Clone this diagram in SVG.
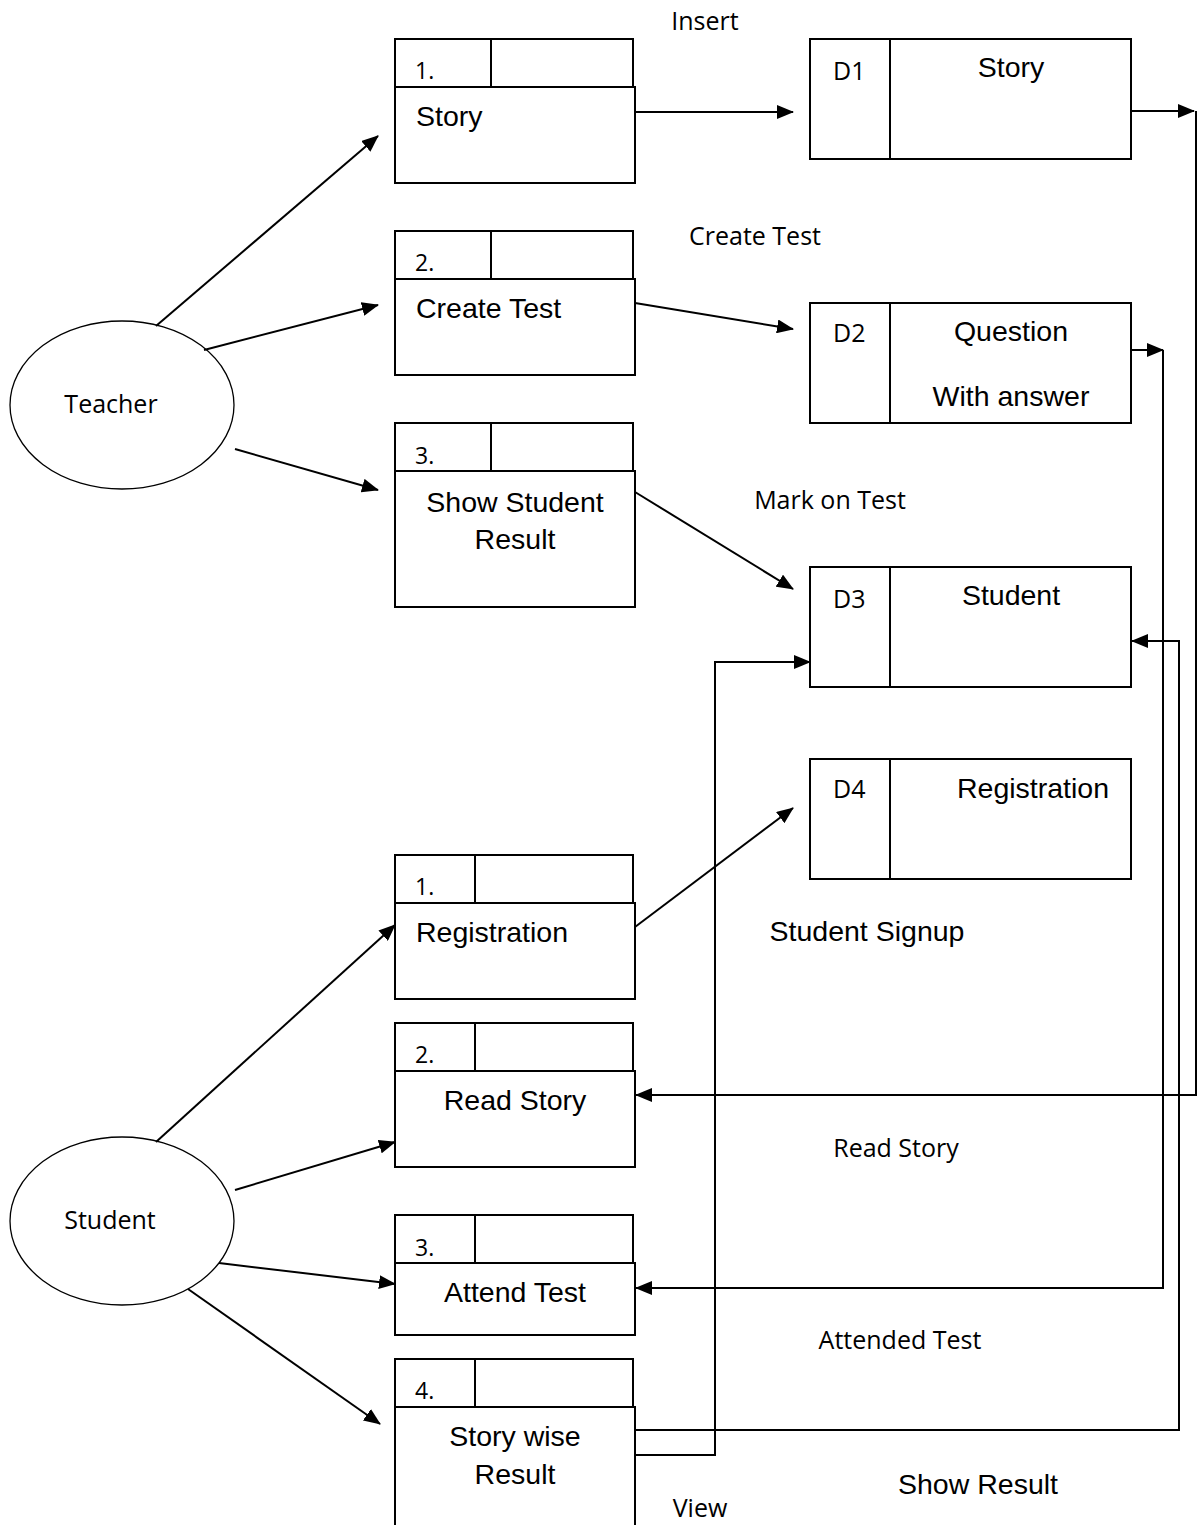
<svg xmlns="http://www.w3.org/2000/svg" width="1203" height="1525" viewBox="0 0 1203 1525">
  <style>
    .box { fill: #fff; stroke: #000; stroke-width: 2; }
    .ell { fill: #fff; stroke: #000; stroke-width: 1.3; }
    .flow { fill: none; stroke: #000; stroke-width: 2; marker-end: url(#arr); }
    .line { fill: none; stroke: #000; stroke-width: 2; }
    .ar { font-family: "Liberation Sans", Arial, sans-serif; font-size: 28.5px; fill: #000; }
    .cal { font-family: "Open Sans", "Noto Sans", sans-serif; font-size: 25px; fill: #000; }
    .num { font-family: "Open Sans", "Noto Sans", sans-serif; font-size: 23px; fill: #000; }
    .mid { text-anchor: middle; }
  </style>
  <defs>
    <marker id="arr" markerUnits="userSpaceOnUse" markerWidth="18" markerHeight="14" refX="16" refY="7" orient="auto">
      <path d="M0,0 L17,7 L0,14 Z" fill="#000"/>
    </marker>
  </defs>

  <!-- external entities -->
  <g id="teacher">
    <ellipse class="ell" cx="122" cy="405" rx="112" ry="84"/>
    <text class="cal mid" x="111" y="413">Teacher</text>
  </g>
  <g id="student">
    <ellipse class="ell" cx="122" cy="1221" rx="112" ry="84"/>
    <text class="cal mid" x="110" y="1229">Student</text>
  </g>

  <!-- teacher processes -->
  <g id="t-story">
    <rect class="box" x="395" y="39" width="238" height="48"/>
    <line class="line" x1="491" y1="39" x2="491" y2="87"/>
    <rect class="box" x="395" y="87" width="240" height="96"/>
    <text class="num" x="415" y="79">1.</text>
    <text class="ar" x="416" y="126">Story</text>
  </g>
  <g id="t-create-test">
    <rect class="box" x="395" y="231" width="238" height="48"/>
    <line class="line" x1="491" y1="231" x2="491" y2="279"/>
    <rect class="box" x="395" y="279" width="240" height="96"/>
    <text class="num" x="415" y="271">2.</text>
    <text class="ar" x="416" y="318">Create Test</text>
  </g>
  <g id="t-show-result">
    <rect class="box" x="395" y="423" width="238" height="48"/>
    <line class="line" x1="491" y1="423" x2="491" y2="471"/>
    <rect class="box" x="395" y="471" width="240" height="136"/>
    <text class="num" x="415" y="464">3.</text>
    <rect x="396" y="470" width="238" height="2" fill="#000"/>
    <text class="ar mid" x="515" y="512">Show Student</text>
    <text class="ar mid" x="515" y="549">Result</text>
  </g>

  <!-- data stores -->
  <g id="d1">
    <rect class="box" x="810" y="39" width="321" height="120"/>
    <line class="line" x1="890" y1="39" x2="890" y2="159"/>
    <text class="cal" x="833" y="80">D1</text>
    <text class="ar mid" x="1011" y="77">Story</text>
  </g>
  <g id="d2">
    <rect class="box" x="810" y="303" width="321" height="120"/>
    <line class="line" x1="890" y1="303" x2="890" y2="423"/>
    <text class="cal" x="833" y="342">D2</text>
    <text class="ar mid" x="1011" y="341">Question</text>
    <text class="ar mid" x="1011" y="406">With answer</text>
  </g>
  <g id="d3">
    <rect class="box" x="810" y="567" width="321" height="120"/>
    <line class="line" x1="890" y1="567" x2="890" y2="687"/>
    <text class="cal" x="833" y="608">D3</text>
    <text class="ar mid" x="1011" y="605">Student</text>
  </g>
  <g id="d4">
    <rect class="box" x="810" y="759" width="321" height="120"/>
    <line class="line" x1="890" y1="759" x2="890" y2="879"/>
    <text class="cal" x="833" y="798">D4</text>
    <text class="ar mid" x="1033" y="798">Registration</text>
  </g>

  <!-- student processes -->
  <g id="s-registration">
    <rect class="box" x="395" y="855" width="238" height="48"/>
    <line class="line" x1="475" y1="855" x2="475" y2="903"/>
    <rect class="box" x="395" y="903" width="240" height="96"/>
    <text class="num" x="415" y="895">1.</text>
    <text class="ar" x="416" y="942">Registration</text>
  </g>
  <g id="s-read-story">
    <rect class="box" x="395" y="1023" width="238" height="48"/>
    <line class="line" x1="475" y1="1023" x2="475" y2="1071"/>
    <rect class="box" x="395" y="1071" width="240" height="96"/>
    <text class="num" x="415" y="1063">2.</text>
    <text class="ar mid" x="515" y="1110">Read Story</text>
  </g>
  <g id="s-attend-test">
    <rect class="box" x="395" y="1215" width="238" height="48"/>
    <line class="line" x1="475" y1="1215" x2="475" y2="1263"/>
    <rect class="box" x="395" y="1263" width="240" height="72"/>
    <text class="num" x="415" y="1256">3.</text>
    <rect x="396" y="1262" width="238" height="2" fill="#000"/>
    <text class="ar mid" x="515" y="1302">Attend Test</text>
  </g>
  <g id="s-result">
    <rect class="box" x="395" y="1359" width="238" height="48"/>
    <line class="line" x1="475" y1="1359" x2="475" y2="1407"/>
    <rect class="box" x="395" y="1407" width="240" height="130"/>
    <text class="num" x="415" y="1399">4.</text>
    <text class="ar mid" x="515" y="1446">Story wise</text>
    <text class="ar mid" x="515" y="1484">Result</text>
  </g>

  <!-- connectors -->
  <g id="connectors">
    <line class="flow" x1="156" y1="326" x2="378" y2="136"/>
    <line class="flow" x1="204" y1="350" x2="378" y2="305"/>
    <line class="flow" x1="235" y1="449" x2="378" y2="490"/>
    <line class="flow" x1="635" y1="112" x2="793" y2="112"/>
    <line class="flow" x1="635" y1="303" x2="793" y2="329"/>
    <line class="flow" x1="635" y1="492" x2="793" y2="589"/>

    <line class="flow" x1="156" y1="1142" x2="395" y2="925"/>
    <line class="flow" x1="235" y1="1190" x2="395" y2="1142"/>
    <line class="flow" x1="219" y1="1263" x2="395" y2="1284"/>
    <line class="flow" x1="188" y1="1289" x2="380" y2="1424"/>
    <line class="flow" x1="635" y1="927" x2="793" y2="808"/>

    <!-- store outputs routed down the right edge -->
    <line class="flow" x1="1131" y1="111" x2="1194" y2="111"/>
    <polyline class="flow" points="1196,111 1196,1095 636,1095"/>
    <line class="flow" x1="1131" y1="350" x2="1163" y2="350"/>
    <polyline class="flow" points="1163,350 1163,1288 636,1288"/>
    <polyline class="flow" points="636,1430 1179,1430 1179,641 1132,641"/>
    <polyline class="flow" points="636,1455 715,1455 715,662 810,662"/>
  </g>

  <!-- flow labels -->
  <text class="cal mid" x="705" y="30">Insert</text>
  <text class="cal mid" x="755" y="245">Create Test</text>
  <text class="cal mid" x="830" y="509">Mark on Test</text>
  <text class="ar mid" x="867" y="941">Student Signup</text>
  <text class="cal mid" x="896" y="1157">Read Story</text>
  <text class="cal mid" x="900" y="1349">Attended Test</text>
  <text class="ar mid" x="978" y="1494">Show Result</text>
  <text class="cal mid" x="700" y="1517">View</text>
</svg>
